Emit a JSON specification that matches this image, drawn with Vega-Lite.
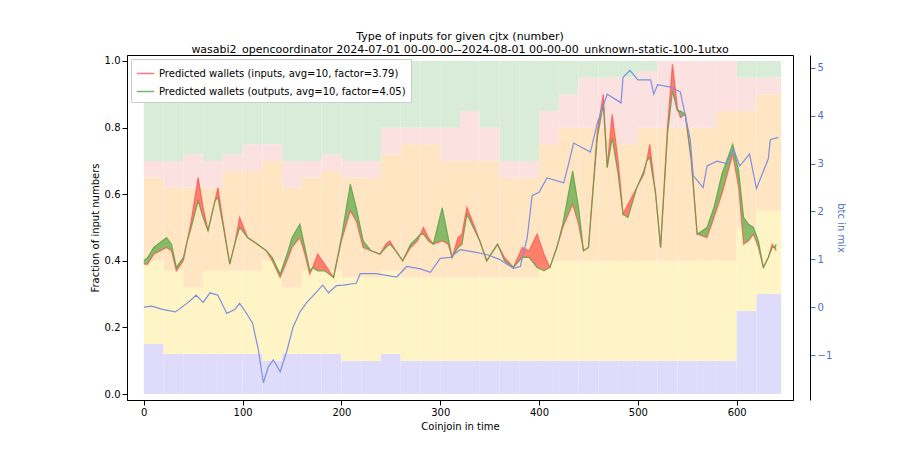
{
"$schema":"https://vega.github.io/schema/vega-lite/v6.json",
"autosize":"none","width":666,"height":345,
"padding":{"left":127,"top":55,"right":107,"bottom":50},
"config":{"font":"DejaVu Sans","view":{"stroke":"#000","strokeWidth":1},
 "axis":{"labelFontSize":10,"titleFontSize":10,"titleFontWeight":"normal","grid":false,"domainColor":"#000","tickColor":"#000","labelColor":"#000"}},
"title":{"text":["Type of inputs for given cjtx (number)","wasabi2_opencoordinator 2024-07-01 00-00-00--2024-08-01 00-00-00_unknown-static-100-1utxo"],"fontSize":11,"fontWeight":"normal","offset":0,"anchor":"middle"},
"datasets":{
"bg":[
{"x":0,"x2":20,"a":0.15,"b":0.25,"c":0.25,"d":0.05,"e":0.30},
{"x":20,"x2":40,"a":0.12,"b":0.25,"c":0.25,"d":0.08,"e":0.30},
{"x":40,"x2":60,"a":0.12,"b":0.2,"c":0.3,"d":0.1,"e":0.28},
{"x":60,"x2":80,"a":0.12,"b":0.25,"c":0.25,"d":0.08,"e":0.30},
{"x":80,"x2":100,"a":0.12,"b":0.25,"c":0.3,"d":0.05,"e":0.28},
{"x":100,"x2":120,"a":0.12,"b":0.25,"c":0.3,"d":0.08,"e":0.25},
{"x":120,"x2":140,"a":0.1,"b":0.3,"c":0.3,"d":0.05,"e":0.25},
{"x":140,"x2":160,"a":0.12,"b":0.2,"c":0.3,"d":0.08,"e":0.30},
{"x":160,"x2":180,"a":0.12,"b":0.25,"c":0.28,"d":0.05,"e":0.30},
{"x":180,"x2":200,"a":0.12,"b":0.25,"c":0.3,"d":0.05,"e":0.28},
{"x":200,"x2":220,"a":0.1,"b":0.25,"c":0.3,"d":0.05,"e":0.30},
{"x":220,"x2":240,"a":0.1,"b":0.25,"c":0.3,"d":0.05,"e":0.30},
{"x":240,"x2":260,"a":0.12,"b":0.25,"c":0.35,"d":0.08,"e":0.2},
{"x":260,"x2":280,"a":0.1,"b":0.25,"c":0.4,"d":0.05,"e":0.2},
{"x":280,"x2":300,"a":0.1,"b":0.25,"c":0.4,"d":0.05,"e":0.2},
{"x":300,"x2":320,"a":0.1,"b":0.25,"c":0.35,"d":0.1,"e":0.2},
{"x":320,"x2":340,"a":0.1,"b":0.25,"c":0.35,"d":0.15,"e":0.15},
{"x":340,"x2":360,"a":0.1,"b":0.25,"c":0.35,"d":0.1,"e":0.2},
{"x":360,"x2":380,"a":0.1,"b":0.25,"c":0.3,"d":0.05,"e":0.3},
{"x":380,"x2":400,"a":0.1,"b":0.25,"c":0.3,"d":0.05,"e":0.3},
{"x":400,"x2":420,"a":0.1,"b":0.3,"c":0.35,"d":0.1,"e":0.15},
{"x":420,"x2":440,"a":0.1,"b":0.3,"c":0.4,"d":0.1,"e":0.1},
{"x":440,"x2":460,"a":0.1,"b":0.3,"c":0.4,"d":0.15,"e":0.05},
{"x":460,"x2":480,"a":0.1,"b":0.3,"c":0.4,"d":0.15,"e":0.05},
{"x":480,"x2":500,"a":0.1,"b":0.3,"c":0.35,"d":0.2,"e":0.05},
{"x":500,"x2":520,"a":0.1,"b":0.3,"c":0.4,"d":0.17,"e":0.03},
{"x":520,"x2":540,"a":0.1,"b":0.3,"c":0.4,"d":0.2,"e":0},
{"x":540,"x2":560,"a":0.1,"b":0.3,"c":0.4,"d":0.2,"e":0},
{"x":560,"x2":580,"a":0.1,"b":0.3,"c":0.4,"d":0.2,"e":0},
{"x":580,"x2":600,"a":0.1,"b":0.3,"c":0.45,"d":0.15,"e":0},
{"x":600,"x2":620,"a":0.25,"b":0.25,"c":0.35,"d":0.1,"e":0.05},
{"x":620,"x2":645,"a":0.3,"b":0.25,"c":0.35,"d":0.05,"e":0.05}
],
"w":[
{"x":0,"r":0.39,"g":0.40},{"x":4,"r":0.39,"g":0.41},{"x":10,"r":0.42,"g":0.44},{"x":23,"r":0.44,"g":0.47},{"x":28,"r":0.43,"g":0.45},{"x":33,"r":0.37,"g":0.38},{"x":40,"r":0.40,"g":0.41},{"x":44,"r":0.46,"g":0.46},{"x":48,"r":0.52,"g":0.50},{"x":55,"r":0.65,"g":0.58},{"x":60,"r":0.56,"g":0.53},{"x":65,"r":0.49,"g":0.49},{"x":72,"r":0.58,"g":0.58},{"x":75,"r":0.62,"g":0.59},{"x":80,"r":0.52,"g":0.51},{"x":87,"r":0.39,"g":0.39},{"x":92,"r":0.45,"g":0.45},{"x":97,"r":0.53,"g":0.50},{"x":105,"r":0.47,"g":0.47},{"x":115,"r":0.45,"g":0.45},{"x":124,"r":0.43,"g":0.43},{"x":130,"r":0.40,"g":0.41},{"x":138,"r":0.35,"g":0.36},{"x":145,"r":0.40,"g":0.42},{"x":150,"r":0.44,"g":0.47},{"x":158,"r":0.47,"g":0.51},{"x":163,"r":0.42,"g":0.44},{"x":168,"r":0.36,"g":0.37},{"x":171,"r":0.38,"g":0.38},{"x":176,"r":0.42,"g":0.37},{"x":183,"r":0.39,"g":0.37},{"x":192,"r":0.35,"g":0.35},{"x":200,"r":0.46,"g":0.47},{"x":209,"r":0.55,"g":0.63},{"x":215,"r":0.52,"g":0.56},{"x":222,"r":0.44,"g":0.46},{"x":230,"r":0.43,"g":0.43},{"x":239,"r":0.42,"g":0.42},{"x":245,"r":0.45,"g":0.44},{"x":249,"r":0.46,"g":0.45},{"x":255,"r":0.43,"g":0.43},{"x":262,"r":0.40,"g":0.40},{"x":270,"r":0.44,"g":0.45},{"x":277,"r":0.46,"g":0.47},{"x":280,"r":0.48,"g":0.48},{"x":283,"r":0.50,"g":0.48},{"x":288,"r":0.47,"g":0.46},{"x":293,"r":0.45,"g":0.45},{"x":302,"r":0.46,"g":0.56},{"x":308,"r":0.45,"g":0.47},{"x":312,"r":0.41,"g":0.41},{"x":318,"r":0.47,"g":0.44},{"x":322,"r":0.48,"g":0.45},{"x":327,"r":0.56,"g":0.54},{"x":335,"r":0.50,"g":0.49},{"x":340,"r":0.46,"g":0.46},{"x":347,"r":0.40,"g":0.40},{"x":358,"r":0.45,"g":0.45},{"x":365,"r":0.41,"g":0.40},{"x":374,"r":0.38,"g":0.38},{"x":383,"r":0.44,"g":0.41},{"x":390,"r":0.43,"g":0.41},{"x":398,"r":0.48,"g":0.38},{"x":405,"r":0.42,"g":0.37},{"x":411,"r":0.38,"g":0.38},{"x":418,"r":0.44,"g":0.44},{"x":424,"r":0.50,"g":0.51},{"x":434,"r":0.57,"g":0.67},{"x":440,"r":0.51,"g":0.56},{"x":445,"r":0.43,"g":0.43},{"x":450,"r":0.44,"g":0.44},{"x":459,"r":0.79,"g":0.77},{"x":465,"r":0.90,"g":0.87},{"x":469,"r":0.68,"g":0.68},{"x":474,"r":0.84,"g":0.77},{"x":480,"r":0.70,"g":0.66},{"x":485,"r":0.54,"g":0.54},{"x":490,"r":0.57,"g":0.53},{"x":499,"r":0.62,"g":0.62},{"x":506,"r":0.66,"g":0.67},{"x":509,"r":0.70,"g":0.70},{"x":512,"r":0.75,"g":0.71},{"x":518,"r":0.60,"g":0.60},{"x":523,"r":0.44,"g":0.44},{"x":530,"r":0.80,"g":0.78},{"x":535,"r":0.99,"g":0.91},{"x":540,"r":0.86,"g":0.85},{"x":541,"r":0.85,"g":0.85},{"x":543,"r":0.83,"g":0.85},{"x":548,"r":0.84,"g":0.84},{"x":554,"r":0.70,"g":0.71},{"x":560,"r":0.48,"g":0.48},{"x":570,"r":0.47,"g":0.50},{"x":577,"r":0.53,"g":0.56},{"x":585,"r":0.60,"g":0.66},{"x":596,"r":0.72,"g":0.75},{"x":602,"r":0.62,"g":0.67},{"x":607,"r":0.45,"g":0.53},{"x":612,"r":0.46,"g":0.51},{"x":617,"r":0.48,"g":0.50},{"x":622,"r":0.44,"g":0.46},{"x":627,"r":0.38,"g":0.38},{"x":632,"r":0.41,"g":0.41},{"x":636,"r":0.45,"g":0.44},{"x":638,"r":0.44,"g":0.44},{"x":640,"r":0.43,"g":0.45}
],
"btc":[
{"x":0,"v":0.0},{"x":8,"v":0.02},{"x":20,"v":-0.05},{"x":32,"v":-0.1},{"x":45,"v":0.1},{"x":53,"v":0.25},{"x":60,"v":0.1},{"x":67,"v":0.3},{"x":75,"v":0.25},{"x":84,"v":-0.13},{"x":92,"v":-0.05},{"x":97,"v":0.08},{"x":103,"v":-0.1},{"x":110,"v":-0.33},{"x":116,"v":-0.9},{"x":121,"v":-1.58},{"x":126,"v":-1.25},{"x":131,"v":-1.1},{"x":138,"v":-1.35},{"x":145,"v":-0.9},{"x":151,"v":-0.42},{"x":158,"v":-0.1},{"x":165,"v":0.1},{"x":174,"v":0.3},{"x":181,"v":0.46},{"x":187,"v":0.3},{"x":195,"v":0.45},{"x":202,"v":0.46},{"x":215,"v":0.5},{"x":219,"v":0.7},{"x":235,"v":0.7},{"x":256,"v":0.63},{"x":266,"v":0.85},{"x":280,"v":0.8},{"x":290,"v":0.73},{"x":300,"v":1.02},{"x":310,"v":1.04},{"x":320,"v":1.2},{"x":335,"v":1.15},{"x":347,"v":1.1},{"x":360,"v":1.0},{"x":374,"v":0.81},{"x":381,"v":0.85},{"x":388,"v":1.45},{"x":393,"v":2.33},{"x":400,"v":2.4},{"x":408,"v":2.7},{"x":425,"v":2.6},{"x":430,"v":3.0},{"x":435,"v":3.43},{"x":452,"v":3.24},{"x":459,"v":3.85},{"x":469,"v":4.45},{"x":483,"v":4.27},{"x":485,"v":4.8},{"x":492,"v":4.95},{"x":500,"v":4.75},{"x":513,"v":4.75},{"x":516,"v":4.45},{"x":520,"v":4.65},{"x":533,"v":4.6},{"x":543,"v":4.5},{"x":553,"v":3.5},{"x":556,"v":2.75},{"x":566,"v":2.5},{"x":570,"v":2.95},{"x":580,"v":3.05},{"x":590,"v":3.0},{"x":597,"v":3.3},{"x":603,"v":2.95},{"x":613,"v":3.2},{"x":620,"v":2.48},{"x":632,"v":3.1},{"x":634,"v":3.5},{"x":642,"v":3.55}
]},
"layer":[
{"layer":[
 {"data":{"name":"bg"},"transform":[{"fold":["a","b","c","d","e"],"as":["k","v"]},{"stack":"v","groupby":["x"],"sort":[{"field":"k","order":"ascending"}],"as":["y0","y1"]}],
  "mark":{"type":"rect"},
  "encoding":{
   "x":{"field":"x","type":"quantitative","scale":{"domain":[-17,657],"nice":false,"zero":false},"axis":{"values":[0,100,200,300,400,500,600],"title":"Coinjoin in time"}},
   "x2":{"field":"x2"},
   "y":{"field":"y1","type":"quantitative","scale":{"domain":[-0.018,1.018],"nice":false,"zero":false},"axis":{"values":[0,0.2,0.4,0.6,0.8,1.0],"format":".1f","title":"Fraction of input numbers"}},
   "y2":{"field":"y0"},
   "fill":{"field":"k","type":"nominal","scale":{"domain":["a","b","c","d","e"],"range":["#dedcfa","#fff4c6","#ffe5c2","#fbe2e0","#d8ecd8"]},"legend":null}}},
 {"data":{"name":"w"},"transform":[{"filter":"datum.r >= datum.g"}],"mark":{"type":"area","color":"#ff3b30","opacity":0.6},
  "encoding":{"x":{"field":"x","type":"quantitative"},"y":{"field":"r","type":"quantitative"},"y2":{"field":"g"}}},
 {"data":{"name":"w"},"transform":[{"filter":"datum.g >= datum.r"}],"mark":{"type":"area","color":"#3a9a2a","opacity":0.6},
  "encoding":{"x":{"field":"x","type":"quantitative"},"y":{"field":"g","type":"quantitative"},"y2":{"field":"r"}}},
 {"data":{"name":"w"},"mark":{"type":"line","strokeWidth":1.2,"opacity":0.75},
  "encoding":{"x":{"field":"x","type":"quantitative"},"y":{"field":"r","type":"quantitative"},
   "color":{"datum":"Predicted wallets (inputs, avg=10, factor=3.79)","type":"nominal",
    "scale":{"domain":["Predicted wallets (inputs, avg=10, factor=3.79)","Predicted wallets (outputs, avg=10, factor=4.05)"],"range":["#ff5050","#4aa040"]},
    "legend":{"orient":"top-left","title":null,"symbolType":"stroke","symbolStrokeWidth":1.5,"symbolSize":300,"labelFontSize":10,"fillColor":"white","strokeColor":"#ccc","padding":5,"offset":4,"rowPadding":3,"labelLimit":400}}}},
 {"data":{"name":"w"},"mark":{"type":"line","strokeWidth":1.2,"opacity":0.75},
  "encoding":{"x":{"field":"x","type":"quantitative"},"y":{"field":"g","type":"quantitative"},
   "color":{"datum":"Predicted wallets (outputs, avg=10, factor=4.05)","type":"nominal"}}}
]},
{"data":{"name":"btc"},"mark":{"type":"line","color":"#7f8fe0","strokeWidth":1.2},
 "encoding":{"x":{"field":"x","type":"quantitative"},
  "y":{"field":"v","type":"quantitative","scale":{"domain":[-1.94,5.27],"nice":false,"zero":false},
   "axis":{"orient":"right","offset":17,"values":[-1,0,1,2,3,4,5],"format":"d","title":"btc in mix","titleColor":"#4c6fd0","labelColor":"#4c6fd0","tickColor":"#4c6fd0","domainColor":"#000"}}}}
],
"resolve":{"scale":{"y":"independent"}}
}
